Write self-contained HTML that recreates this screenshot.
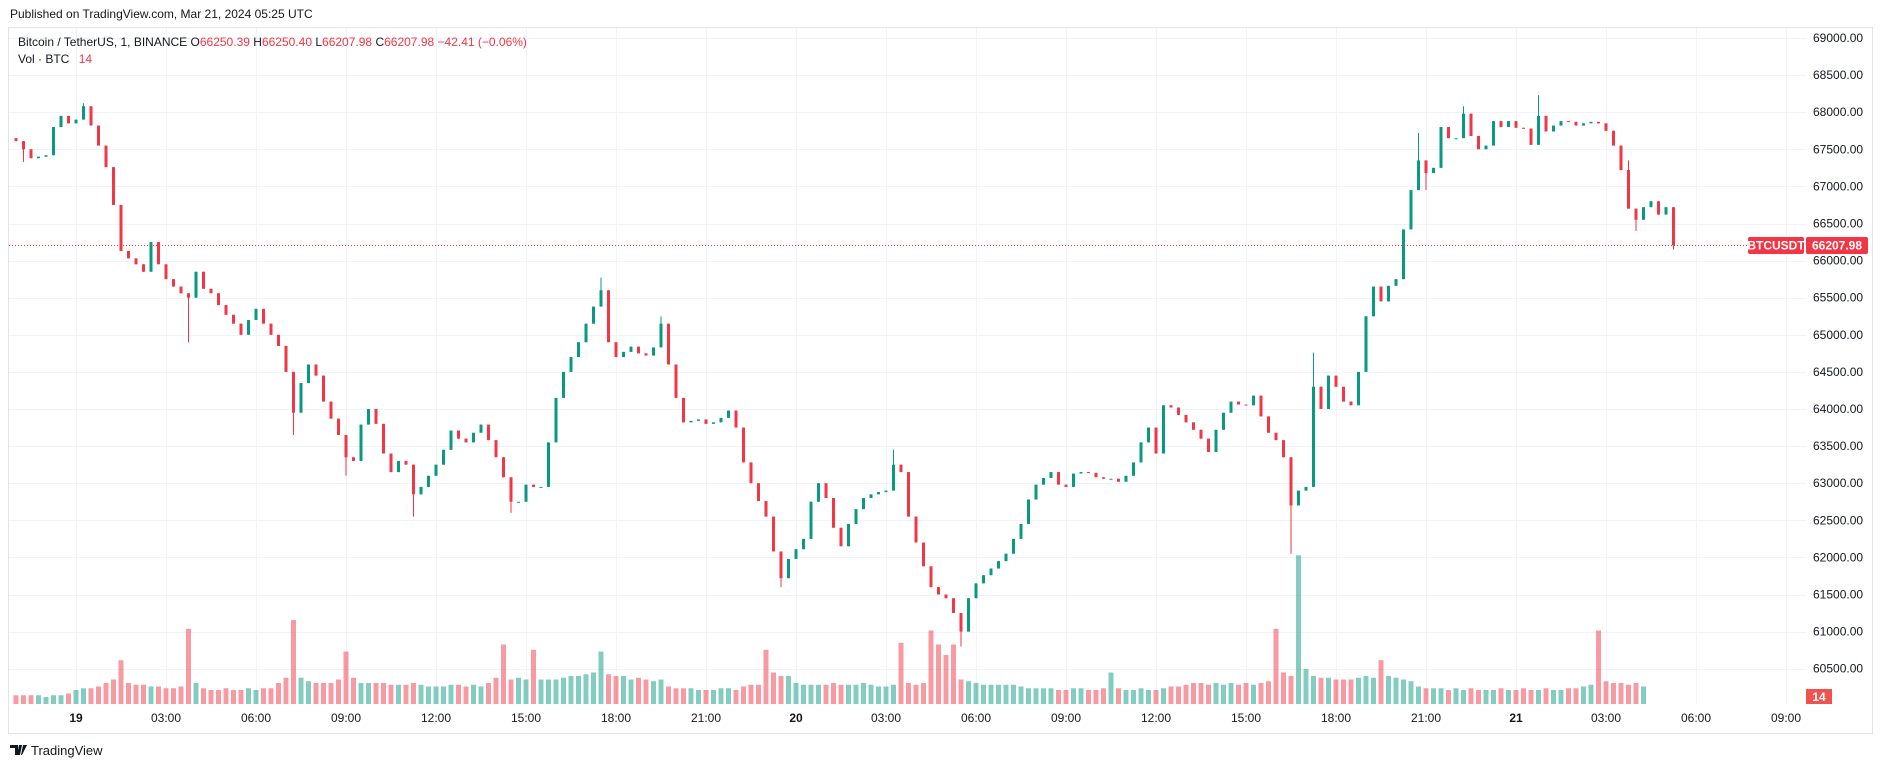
<!DOCTYPE html>
<html><head><meta charset="utf-8"><style>
html,body{margin:0;padding:0;background:#fff;width:1882px;height:768px;overflow:hidden;font-family:"Liberation Sans",sans-serif;}
svg{display:block}
</style></head><body>
<svg id="chart" width="1882" height="768" xmlns="http://www.w3.org/2000/svg">
<text x="10" y="18" font-size="12" fill="#131722">Published on TradingView.com, Mar 21, 2024 05:25 UTC</text>
<rect x="8.5" y="27.5" width="1864" height="706" fill="none" stroke="#e0e3eb" stroke-width="1"/>
<g id="grid"></g>
<g id="vol"></g>
<g id="candles"></g>
<g id="axes"></g>
<g font-size="12">
<text x="18" y="46" fill="#131722">Bitcoin / TetherUS, 1, BINANCE <tspan fill="#131722">O</tspan><tspan fill="#F23645">66250.39</tspan> <tspan fill="#131722">H</tspan><tspan fill="#F23645">66250.40</tspan> <tspan fill="#131722">L</tspan><tspan fill="#F23645">66207.98</tspan> <tspan fill="#131722">C</tspan><tspan fill="#F23645">66207.98</tspan> <tspan fill="#F23645">−42.41 (−0.06%)</tspan></text>
<text x="18" y="63" fill="#131722">Vol · BTC <tspan fill="#F23645" dx="6">14</tspan></text>
</g>
<g>
<path d="M10 745h8v10h-3v-7h-5z M19 745h3l-2 10h-3z M23 745h4l-5 10h-1z" fill="#131722"/>
<text x="31" y="755" font-size="13" fill="#131722">TradingView</text>
</g>
</svg>
<script>
const closes=[67610,67500,67380,67400,67420,67800,67950,67850,67900,68080,67820,67550,67260,66750,66130,66030,65950,65850,66250,65950,65750,65650,65560,65500,65850,65620,65560,65400,65270,65150,65000,65200,65350,65150,65000,64850,64500,63950,64350,64600,64450,64100,63870,63650,63350,63300,63790,64000,63800,63400,63150,63300,63250,62850,62950,63100,63250,63450,63710,63600,63550,63680,63790,63580,63350,63080,62750,62750,62980,62950,62950,63550,64150,64500,64700,64900,65150,65380,65600,64900,64700,64770,64840,64750,64720,64830,65150,64600,64150,63820,63840,63860,63800,63820,63880,63980,63750,63280,63000,62760,62550,62080,61720,61980,62110,62250,62750,63000,62800,62400,62150,62450,62650,62800,62850,62880,62900,63250,63150,62550,62200,61880,61600,61500,61450,61250,61000,61450,61650,61760,61850,61950,62050,62250,62450,62780,62980,63070,63150,62980,62950,63130,63150,63140,63080,63060,63060,63020,63100,63280,63550,63750,63400,64050,64020,63920,63820,63720,63600,63420,63720,63950,64100,64060,64050,64180,63900,63680,63580,63350,62700,62900,62950,64300,64000,64450,64300,64100,64050,64500,65250,65650,65450,65660,65750,66420,66950,67350,67180,67250,67800,67650,67650,67980,67680,67500,67550,67880,67800,67880,67790,67780,67560,67950,67740,67820,67880,67870,67820,67850,67870,67850,67750,67550,67220,66700,66550,66720,66800,66620,66720,66207.98];
const firstOpen=67650;
const spikeLows=[[1,67330],[23,64900],[37,63650],[44,63100],[53,62550],[66,62600],[102,61600],[126,60800],[170,62050],[188,66950],[216,66400],[221,66150]];
const spikeHighs=[[9,68120],[78,65770],[86,65250],[117,63450],[173,64760],[187,67720],[193,68080],[203,68230],[215,67350]];
const volumes=[25,25,25,25,20,25,25,30,40,45,45,50,60,70,125,60,55,55,50,50,45,45,50,215,60,45,40,40,45,40,40,45,40,45,45,60,75,240,75,65,60,60,60,70,150,75,60,60,60,60,55,55,55,60,55,50,50,50,55,55,50,55,50,60,75,170,70,75,70,155,70,70,70,75,80,80,85,90,150,85,80,80,70,75,70,65,70,50,45,45,45,40,40,40,45,45,40,50,55,55,155,90,80,80,60,55,55,55,55,60,55,55,55,60,55,50,50,55,175,60,55,60,210,170,140,170,70,65,60,55,55,55,55,55,50,45,45,45,45,40,40,45,45,40,40,45,90,45,40,40,45,40,40,45,50,50,55,60,60,55,60,55,60,55,60,55,60,65,215,90,80,425,100,80,75,75,70,70,70,75,80,75,125,80,75,70,65,50,45,45,45,40,45,40,45,40,40,40,45,40,40,45,40,40,45,40,40,45,45,50,55,210,65,60,60,55,60,50];
const priceTicks=[69000,68500,68000,67500,67000,66500,66000,65500,65000,64500,64000,63500,63000,62500,62000,61500,61000,60500];
const timeLabels=["19","03:00","06:00","09:00","12:00","15:00","18:00","21:00","20","03:00","06:00","09:00","12:00","15:00","18:00","21:00","21","03:00","06:00","09:00"];
const lastPrice=66207.98;

const NS="http://www.w3.org/2000/svg";
const UP="#089981",DN="#F23645";
function yP(p){return 38+(69000-p)/500*37.1;}
function xI(i){return 16+7.5*i;}
function yV(v){return 704-v*0.35;}
function mk(tag,attrs,parent){const e=document.createElementNS(NS,tag);for(const k in attrs)e.setAttribute(k,attrs[k]);parent.appendChild(e);return e;}

const grid=document.getElementById('grid');
priceTicks.forEach(p=>{const y=Math.round(yP(p))+0.5;
 const l=mk('line',{x1:9,x2:1806,y1:y,y2:y,stroke:'#f0f3fa','stroke-width':1},grid);
 
 });
timeLabels.forEach((t,k)=>{const x=76+90*k+0.5;
 const l=mk('line',{x1:x,x2:x,y1:28,y2:704,stroke:'#f0f3fa','stroke-width':1},grid);
 
 });

const vol=document.getElementById('vol');
volumes.forEach((v,i)=>{const o=i?closes[i-1]:firstOpen;const up=closes[i]>=o;
 const y=yV(v);
 const r=mk('rect',{x:xI(i)-2.5,y:y,width:5,height:704-y,fill:up?'rgba(8,153,129,0.5)':'rgba(242,54,69,0.5)'},vol);
 
 });

const cg=document.getElementById('candles');
const lowMap={},highMap={};spikeLows.forEach(a=>lowMap[a[0]]=a[1]);spikeHighs.forEach(a=>highMap[a[0]]=a[1]);
closes.forEach((c,i)=>{const o=i?closes[i-1]:firstOpen;const up=c>=o;const col=up?UP:DN;
 const hi=Math.max(o,c,highMap[i]||0),lo=Math.min(o,c,lowMap[i]||1e9);
 const x=xI(i);
 const w=mk('line',{x1:x,x2:x,y1:yP(hi),y2:yP(lo),stroke:col,'stroke-width':1},cg);
 
 
 const yt=yP(Math.max(o,c)),yb=yP(Math.min(o,c));
 const b=mk('rect',{x:x-1.5,y:yt,width:3,height:Math.max(1,yb-yt),fill:col},cg);
 
 });

const ax=document.getElementById('axes');
priceTicks.forEach(p=>{const t=mk('text',{x:1813,y:yP(p)+4,'font-size':12,fill:'#131722'},ax);t.textContent=p.toFixed(2);
 
 });
timeLabels.forEach((s,k)=>{const bold=/^\d\d$/.test(s);const t=mk('text',{x:76+90*k,y:722,'font-size':12,fill:'#131722','text-anchor':'middle','font-weight':bold?'bold':'normal'},ax);t.textContent=s;
 
 });
const ly=Math.round(yP(lastPrice))+0.5;
const pl=mk('line',{x1:9,x2:1748,y1:ly,y2:ly,stroke:DN,'stroke-width':1,'stroke-dasharray':'1 2'},ax);


const b1=mk('rect',{x:1748,y:ly-8.5,width:56,height:17,rx:2,fill:DN},ax);


const t1=mk('text',{x:1776,y:ly+4,'font-size':12,'font-weight':'bold',fill:'#fff','text-anchor':'middle'},ax);t1.textContent='BTCUSDT';


const b2=mk('rect',{x:1806,y:ly-8.5,width:62,height:17,rx:2,fill:DN},ax);


const t2=mk('text',{x:1837,y:ly+4,'font-size':12,'font-weight':'bold',fill:'#fff','text-anchor':'middle'},ax);t2.textContent=lastPrice.toFixed(2);


const b3=mk('rect',{x:1806,y:689,width:26,height:15,fill:'#ef5350'},ax);


const t3=mk('text',{x:1819,y:701,'font-size':12,'font-weight':'bold',fill:'#fff','text-anchor':'middle'},ax);t3.textContent='14';


</script>
</body></html>
